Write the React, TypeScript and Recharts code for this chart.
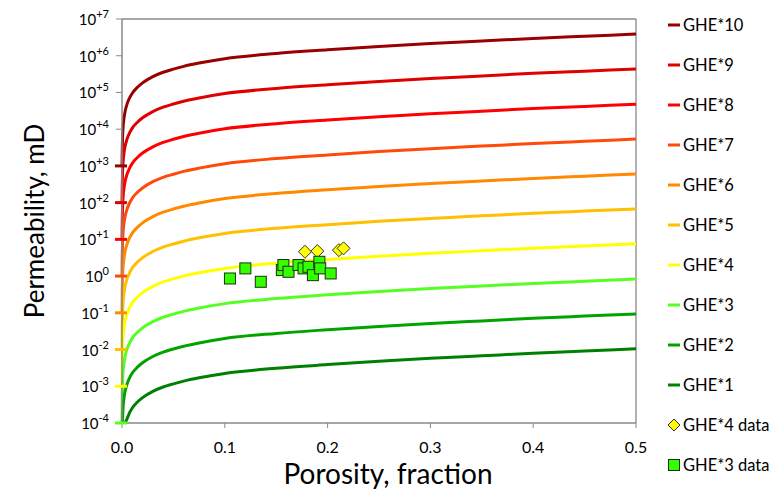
import { ComposedChart, Line, Scatter, XAxis, YAxis, ReferenceLine } from 'recharts';

// porosity grid (fraction) shared by the GHE curves
const PHI = [0, 0.0002, 0.0005, 0.001, 0.002, 0.003, 0.005, 0.0075, 0.01, 0.015, 0.02, 0.03, 0.04, 0.05, 0.06, 0.075, 0.1, 0.15, 0.2, 0.25, 0.3, 0.35, 0.4, 0.45, 0.5];

// permeability (mD), null = below the 1e-4 floor
const GHE1 = [null, null, null, null, null, 1e-4, 1.32e-4, 1.94e-4, 2.57e-4, 3.72e-4, 4.9e-4, 7.24e-4, 9.55e-4, 1.16e-3, 1.38e-3, 1.7e-3, 2.24e-3, 3.09e-3, 3.89e-3, 4.79e-3, 5.75e-3, 6.76e-3, 7.94e-3, 9.12e-3, 1.05e-2];
const GHE2 = [null, 1e-4, 1.32e-4, 2.57e-4, 4.9e-4, 7.24e-4, 1.175e-3, 1.73e-3, 2.29e-3, 3.31e-3, 4.37e-3, 6.46e-3, 8.51e-3, 1.035e-2, 1.23e-2, 1.51e-2, 2.0e-2, 2.75e-2, 3.47e-2, 4.27e-2, 5.13e-2, 6.03e-2, 7.08e-2, 8.13e-2, 9.33e-2];
const GHE3 = [1e-4, 4.9e-4, 1.175e-3, 2.29e-3, 4.37e-3, 6.46e-3, 1.047e-2, 1.54e-2, 2.04e-2, 2.95e-2, 3.89e-2, 5.75e-2, 7.59e-2, 9.22e-2, 0.1096, 0.135, 0.178, 0.245, 0.309, 0.38, 0.457, 0.537, 0.631, 0.724, 0.832];
const GHE4 = [1e-3, 4.47e-3, 1.07e-2, 2.09e-2, 3.98e-2, 5.89e-2, 9.55e-2, 0.14, 0.186, 0.269, 0.355, 0.525, 0.692, 0.841, 1.0, 1.23, 1.62, 2.24, 2.82, 3.47, 4.17, 4.9, 5.75, 6.61, 7.59];
const GHE5 = [1e-2, 3.98e-2, 9.55e-2, 0.186, 0.355, 0.525, 0.851, 1.25, 1.66, 2.4, 3.16, 4.68, 6.17, 7.49, 8.91, 11.0, 14.5, 20.0, 25.1, 30.9, 37.2, 43.7, 51.3, 58.9, 67.6];
const GHE6 = [0.1, 0.355, 0.851, 1.66, 3.16, 4.68, 7.59, 11.1, 14.8, 21.4, 28.2, 41.7, 55.0, 66.9, 79.4, 97.7, 129, 178, 224, 275, 331, 389, 457, 525, 603];
const GHE7 = [1, 3.16, 7.59, 14.8, 28.2, 41.7, 67.6, 99.3, 132, 191, 251, 372, 490, 595, 708, 871, 1148, 1585, 1995, 2455, 2951, 3467, 4074, 4677, 5370];
const GHE8 = [10, 28.2, 67.6, 132, 251, 372, 603, 885, 1175, 1698, 2239, 3311, 4365, 5308, 6310, 7762, 10233, 14125, 17783, 21878, 26303, 30903, 36308, 41687, 47863];
const GHE9 = [100, 257, 617, 1202, 2291, 3388, 5495, 8072, 10715, 15488, 20417, 30200, 39811, 48411, 57544, 70795, 93325, 128825, 162181, 199526, 239883, 281838, 331131, 380189, 436516];
const GHE10 = [1000, 2291, 5495, 10715, 20417, 30200, 48978, 71945, 95499, 138038, 181970, 269153, 354813, 431459, 512861, 630957, 831764, 1148154, 1445440, 1778279, 2137962, 2511886, 2951209, 3388442, 3890451];

// measured samples
const GHE4_DATA_PHI = [0.178, 0.19, 0.211, 0.2155];
const GHE4_DATA_K = [4.6, 4.8, 5.1, 5.7];
const GHE3_DATA_PHI = [0.105, 0.12, 0.135, 0.1555, 0.157, 0.162, 0.1717, 0.1766, 0.1814, 0.1857, 0.192, 0.1928, 0.203];
const GHE3_DATA_K = [0.86, 1.62, 0.7, 1.46, 2.0, 1.31, 2.0, 1.62, 1.79, 1.06, 2.45, 1.62, 1.18];

const Y_TICKS = [1e-4, 1e-3, 1e-2, 1e-1, 1, 10, 1e2, 1e3, 1e4, 1e5, 1e6, 1e7];
const X_TICKS = [0, 0.1, 0.2, 0.3, 0.4, 0.5];

const SERIES = [
  { key: 'g10', name: 'GHE*10', values: GHE10, color: '#990000' },
  { key: 'g9', name: 'GHE*9', values: GHE9, color: '#E00000' },
  { key: 'g8', name: 'GHE*8', values: GHE8, color: '#FF0000' },
  { key: 'g7', name: 'GHE*7', values: GHE7, color: '#FF4A0A' },
  { key: 'g6', name: 'GHE*6', values: GHE6, color: '#FF8A00' },
  { key: 'g5', name: 'GHE*5', values: GHE5, color: '#FFC000' },
  { key: 'g4', name: 'GHE*4', values: GHE4, color: '#FFFF00' },
  { key: 'g3', name: 'GHE*3', values: GHE3, color: '#55FF22' },
  { key: 'g2', name: 'GHE*2', values: GHE2, color: '#00A300' },
  { key: 'g1', name: 'GHE*1', values: GHE1, color: '#008000' },
];

const FONT = 'Lato, "Noto Sans", sans-serif';
const AXIS = '#898989';

const rows = PHI.map((phi, i) => {
  const r: Record<string, number | null> = { phi };
  SERIES.forEach((s) => (r[s.key] = s.values[i]));
  return r;
});

const ghe4Data = GHE4_DATA_PHI.map((phi, i) => ({ phi, k: GHE4_DATA_K[i] }));
const ghe3Data = GHE3_DATA_PHI.map((phi, i) => ({ phi, k: GHE3_DATA_K[i] }));

// first point of each curve at phi = 0 shows as a short dash on the axis
const startDash = SERIES.filter((s) => s.values[0] != null).map((s) => ({
  phi: PHI[0],
  k: s.values[0],
  color: s.color,
}));

const YTick = ({ x, y, payload }: any) => {
  const e = Math.round(Math.log10(payload.value));
  const sup = e > 0 ? `+${e}` : `${e}`;
  return (
    <text x={x - 5} y={y + 6} textAnchor="end" fill="#000" fontFamily={FONT} fontSize={15}>
      10
      <tspan dy={-7} fontSize={11}>
        {sup}
      </tspan>
    </text>
  );
};

const Square = ({ cx, cy }: any) => (
  <rect x={cx - 5.5} y={cy - 5.5} width={11} height={11} fill="#33FF00" stroke="#1C2E10" strokeWidth={1} />
);

const Diamond = ({ cx, cy }: any) => (
  <polygon
    points={`${cx},${cy - 6.5} ${cx + 6.5},${cy} ${cx},${cy + 6.5} ${cx - 6.5},${cy}`}
    fill="#FFFF00"
    stroke="#333"
    strokeWidth={1}
  />
);

const Dash = ({ cx, cy, payload }: any) => (
  <line x1={cx - 7} x2={cx + 5} y1={cy} y2={cy} stroke={payload.color} strokeWidth={3} />
);

function LegendBox() {
  const item = (marker: any, label: string) => (
    <div key={label} style={{ height: 40, display: 'flex', alignItems: 'center' }}>
      <svg width={16} height={14} style={{ marginRight: 1 }}>
        {marker}
      </svg>
      <span>{label}</span>
    </div>
  );
  return (
    <div
      style={{
        position: 'absolute',
        left: 666,
        top: 5,
        fontFamily: FONT,
        fontSize: 16.5,
        color: '#000',
      }}
    >
      {SERIES.map((s) => item(<line x1={2} x2={14} y1={7} y2={7} stroke={s.color} strokeWidth={3} />, s.name))}
      {item(<polygon points="8,1 14,7 8,13 2,7" fill="#FFFF00" stroke="#333" strokeWidth={1} />, 'GHE*4 data')}
      {item(<rect x={2.5} y={1.5} width={11} height={11} fill="#33FF00" stroke="#1C2E10" strokeWidth={1} />, 'GHE*3 data')}
    </div>
  );
}

export default function App() {
  return (
    <div style={{ position: 'absolute', left: 0, top: 0, width: 776, height: 491, background: '#fff' }}>
      <ComposedChart width={776} height={491} data={rows} margin={{ top: 19, right: 140, bottom: 0, left: 0 }}>
        <XAxis
          dataKey="phi"
          type="number"
          domain={[0, 0.5]}
          ticks={X_TICKS}
          tickFormatter={(v: number) => v.toFixed(1)}
          height={68}
          tickSize={5}
          tickMargin={14}
          axisLine={{ stroke: AXIS, strokeWidth: 1.5 }}
          tickLine={{ stroke: AXIS }}
          tick={{ fill: '#000', fontSize: 16, fontFamily: FONT }}
        />
        <YAxis
          type="number"
          scale="log"
          domain={[1e-4, 1e7]}
          ticks={Y_TICKS}
          width={122}
          tickSize={6}
          tickMargin={2}
          axisLine={{ stroke: AXIS, strokeWidth: 1.5 }}
          tickLine={{ stroke: AXIS }}
          tick={<YTick />}
        />
        <ReferenceLine y={1e7} stroke={AXIS} strokeWidth={1.3} />
        <ReferenceLine x={0.5} stroke={AXIS} strokeWidth={1.3} />
        <Scatter data={startDash} dataKey="k" shape={<Dash />} isAnimationActive={false} />
        {SERIES.map((s) => (
          <Line
            key={s.key}
            dataKey={s.key}
            type="monotone"
            stroke={s.color}
            strokeWidth={3}
            dot={false}
            activeDot={false}
            isAnimationActive={false}
          />
        ))}
        <Scatter data={ghe4Data} dataKey="k" shape={<Diamond />} isAnimationActive={false} />
        <Scatter data={ghe3Data} dataKey="k" shape={<Square />} isAnimationActive={false} />
        <text x={388} y={484} textAnchor="middle" fontFamily={FONT} fontSize={28} fill="#000">
          Porosity, fraction
        </text>
        <text
          transform="rotate(-90)"
          x={-221}
          y={44}
          textAnchor="middle"
          fontFamily={FONT}
          fontSize={26}
          fill="#000"
        >
          Permeability, mD
        </text>
      </ComposedChart>
      <LegendBox />
    </div>
  );
}
